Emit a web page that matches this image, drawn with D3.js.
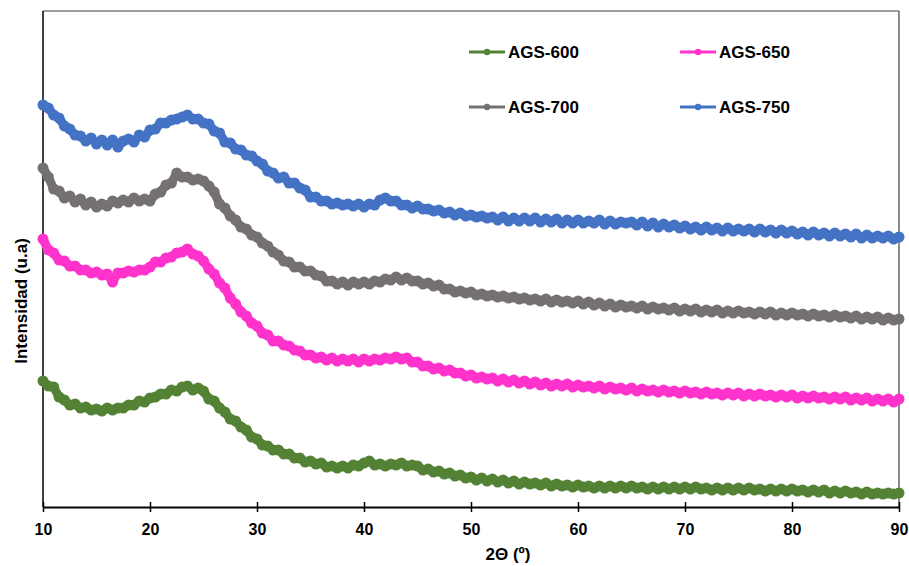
<!DOCTYPE html>
<html><head><meta charset="utf-8">
<script src="https://cdn.jsdelivr.net/npm/d3@7/dist/d3.min.js"></script>
<style>
html,body{margin:0;padding:0;background:#fff;}
svg{display:block;font-family:"Liberation Sans",Arial,sans-serif;}
</style></head>
<body><svg id="chart" width="909" height="566"></svg>
<script>
// 2θ grid (degrees), 0.5° step
const twoTheta = d3.range(10, 90.001, 0.5);
const xTicks = [10, 20, 30, 40, 50, 60, 70, 80, 90];
const seriesNames = ["AGS-600", "AGS-650", "AGS-700", "AGS-750"];
const seriesColors = ["#548235", "#FF33CC", "#767171", "#4472C4"];

// Intensities (a.u.)
const ags600 = [
126,121,120,110,107,102,103,99,100,97,
98,96,99,97,99,99,102,102,106,105,
109,110,113,113,117,116,120,121,117,119,
116,108,106,99,95,88,86,80,77,70,
68,62,61,57,57,53,53,49,49,45,
46,43,44,40,41,39,41,39,42,41,
44,46,42,43,41,43,42,44,41,42,
41,37,38,35,36,33,34,31,32,29,
30,27,29,26,28,25,27,24,26,23,
25,23,24,22,24,21,23,21,22,20,
22,20,21,19,21,19,21,19,21,19,
21,19,20,18,20,18,20,18,20,18,
20,18,20,18,19,17,19,17,19,17,
19,17,19,17,18,16,18,16,18,16,
18,16,17,15,17,15,17,14,16,14,
16,14,15,13,15,13,14,13,14,13,
14];
const ags650 = [
268,257,254,247,246,241,241,237,237,234,
235,232,233,225,234,234,236,235,237,237,
240,245,245,249,250,254,255,258,253,251,
246,238,233,224,219,209,203,195,191,184,
181,174,172,166,166,162,161,157,156,152,
152,149,150,147,149,146,148,146,148,145,
148,146,148,147,149,148,150,148,149,145,
145,141,141,138,139,136,137,134,134,131,
132,129,130,128,129,126,128,125,127,124,
126,123,125,122,124,121,123,121,123,120,
122,120,121,119,121,118,120,118,119,117,
119,116,118,116,117,115,117,115,116,114,
116,114,115,113,115,113,114,112,114,112,
114,111,113,111,113,111,112,110,112,110,
112,109,111,109,111,109,110,108,110,108,
110,107,109,107,109,106,108,106,108,105,
108];
const ags700 = [
339,330,318,316,309,311,305,308,302,305,
300,303,301,306,304,307,305,309,306,308,
306,313,315,322,324,334,330,330,327,328,
326,321,315,303,299,291,287,280,278,272,
270,264,261,255,252,246,245,240,240,236,
236,232,231,226,226,223,225,222,225,223,
225,223,226,225,228,227,230,227,229,226,
226,223,224,221,222,218,218,215,216,214,
215,212,213,211,212,210,211,209,210,208,
209,207,208,206,208,205,207,205,206,204,
206,203,205,202,204,201,203,200,202,200,
201,199,201,198,200,198,199,197,199,196,
198,196,198,195,197,195,197,194,196,194,
196,194,195,193,195,193,195,192,194,192,
194,192,193,191,193,191,192,190,192,190,
191,189,191,188,190,188,190,187,189,187,
188];
const ags750 = [
402,399,392,389,381,378,372,371,366,369,
363,367,362,367,360,366,368,365,372,370,
377,378,384,384,387,388,390,392,388,388,
384,383,376,374,365,364,358,357,352,351,
346,343,336,334,329,330,324,324,319,317,
310,310,306,306,303,304,302,303,301,303,
300,303,302,307,309,306,306,302,302,299,
301,298,298,296,297,294,295,292,294,291,
292,290,291,289,290,287,290,286,289,286,
289,286,289,285,288,285,288,284,287,284,
287,284,286,284,287,283,286,283,285,284,
285,282,285,281,284,280,283,280,282,279,
281,278,280,277,280,277,279,276,279,276,
278,276,278,275,278,275,277,274,277,274,
276,273,275,272,275,272,274,271,274,271,
273,270,273,269,272,269,271,269,271,268,
270];
const seriesValues = [ags600, ags650, ags700, ags750];

const svg = d3.select("#chart");
const x = d3.scaleLinear().domain([10, 90]).range([43, 899]);
const y = d3.scaleLinear().domain([0, 500]).range([507, 7]);

// frame (top / right)
svg.append("line").attr("x1", 43).attr("x2", 899).attr("y1", 11).attr("y2", 11)
  .attr("stroke", "#404040").attr("stroke-width", 1.2);
svg.append("line").attr("x1", 899).attr("x2", 899).attr("y1", 11).attr("y2", 507)
  .attr("stroke", "#404040").attr("stroke-width", 1.2);
// left axis line (no ticks)
svg.append("line").attr("x1", 43).attr("x2", 43).attr("y1", 11).attr("y2", 507)
  .attr("stroke", "#000").attr("stroke-width", 1.5);

// series
const line = d3.line().x(d => x(d[0])).y(d => y(d[1]));
seriesValues.forEach((vals, si) => {
  const pts = vals.map((v, i) => [twoTheta[i], v]);
  const g = svg.append("g");
  g.append("path").datum(pts).attr("d", line)
    .attr("fill", "none").attr("stroke", seriesColors[si]).attr("stroke-width", 9)
    .attr("stroke-linejoin", "round");
  g.selectAll("circle").data(pts).join("circle")
    .attr("cx", d => x(d[0])).attr("cy", d => y(d[1])).attr("r", 5.5)
    .attr("fill", seriesColors[si]);
});

// bottom axis
const xAxis = d3.axisBottom(x).tickValues(xTicks).tickSizeInner(5).tickSizeOuter(0).tickPadding(10);
const ax = svg.append("g").attr("transform", "translate(0,507)").call(xAxis);
ax.select(".domain").attr("stroke", "#000").attr("stroke-width", 1.8);
ax.selectAll(".tick line").attr("y1", -5).attr("y2", 5).attr("stroke", "#000").attr("stroke-width", 1.5);
ax.selectAll(".tick text").attr("font-size", 16).attr("font-weight", "bold")
  .attr("font-family", "'Liberation Sans', Arial, sans-serif").attr("fill", "#000").attr("dy", "0.8em");

// axis titles
svg.append("text").attr("x", 508).attr("y", 560).attr("text-anchor", "middle")
  .attr("font-size", 17).attr("font-weight", "bold").text("2Θ (º)");
svg.append("text").attr("transform", "translate(27,301) rotate(-90)").attr("text-anchor", "middle")
  .attr("font-size", 17).attr("font-weight", "bold").text("Intensidad (u.a)");

// legend
const legendPos = [[469, 52], [680, 52], [469, 107], [680, 107]];
seriesNames.forEach((name, i) => {
  const [lx, ly] = legendPos[i];
  const g = svg.append("g");
  g.append("line").attr("x1", lx).attr("x2", lx + 36).attr("y1", ly).attr("y2", ly)
    .attr("stroke", seriesColors[i]).attr("stroke-width", 3);
  g.append("circle").attr("cx", lx + 18).attr("cy", ly).attr("r", 3.2).attr("fill", seriesColors[i]);
  g.append("text").attr("x", lx + 39).attr("y", ly + 6).attr("font-size", 17)
    .attr("font-weight", "bold").attr("fill", "#000").text(name);
});
</script></body></html>
